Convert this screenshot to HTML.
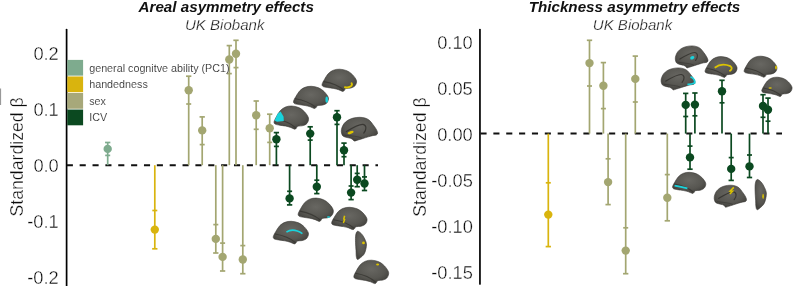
<!DOCTYPE html>
<html><head><meta charset="utf-8"><style>
html,body{margin:0;padding:0;background:#fff;}
body{width:794px;height:286px;overflow:hidden;font-family:"Liberation Sans",sans-serif;}
svg{display:block;will-change:transform;}
</style></head><body>
<svg width="794" height="286" viewBox="0 0 794 286">
<defs><radialGradient id="bg" cx="0.5" cy="0.38" r="0.62"><stop offset="0" stop-color="#686762"/><stop offset="0.65" stop-color="#575651"/><stop offset="1" stop-color="#42413d"/></radialGradient></defs>
<text x="226.2" y="12.2" font-family="Liberation Sans, sans-serif" font-size="15.2" font-weight="bold" font-style="italic" text-anchor="middle" fill="#111">Areal asymmetry effects</text>
<text x="224.7" y="29.7" font-family="Liberation Sans, sans-serif" font-size="15.05" font-style="italic" text-anchor="middle" fill="#222" stroke="#fff" stroke-width="0.25">UK Biobank</text>
<text x="634.5" y="11.8" font-family="Liberation Sans, sans-serif" font-size="15.2" font-weight="bold" font-style="italic" text-anchor="middle" fill="#111">Thickness asymmetry effects</text>
<text x="632.5" y="29.7" font-family="Liberation Sans, sans-serif" font-size="15.05" font-style="italic" text-anchor="middle" fill="#222" stroke="#fff" stroke-width="0.25">UK Biobank</text>
<line x1="66.6" y1="29.5" x2="66.6" y2="290" stroke="#000" stroke-width="1.7" stroke-linecap="round"/>
<text x="58.8" y="59.85" font-family="Liberation Sans, sans-serif" font-size="18.3" text-anchor="end" fill="#0a0a0a" stroke="#fff" stroke-width="0.35">0.2</text>
<text x="58.8" y="115.85" font-family="Liberation Sans, sans-serif" font-size="18.3" text-anchor="end" fill="#0a0a0a" stroke="#fff" stroke-width="0.35">0.1</text>
<text x="58.8" y="171.85" font-family="Liberation Sans, sans-serif" font-size="18.3" text-anchor="end" fill="#0a0a0a" stroke="#fff" stroke-width="0.35">0.0</text>
<text x="58.8" y="227.85" font-family="Liberation Sans, sans-serif" font-size="18.3" text-anchor="end" fill="#0a0a0a" stroke="#fff" stroke-width="0.35">-0.1</text>
<text x="58.8" y="283.85" font-family="Liberation Sans, sans-serif" font-size="18.3" text-anchor="end" fill="#0a0a0a" stroke="#fff" stroke-width="0.35">-0.2</text>
<text transform="translate(22.5,156.9) rotate(-90)" font-family="Liberation Sans, sans-serif" font-size="17.7" text-anchor="middle" fill="#0a0a0a" stroke="#fff" stroke-width="0.35">Standardized β</text>
<line x1="479.95" y1="29.5" x2="479.95" y2="283.9" stroke="#000" stroke-width="1.7" stroke-linecap="round"/>
<text x="472.8" y="48.50" font-family="Liberation Sans, sans-serif" font-size="18.3" text-anchor="end" fill="#0a0a0a" stroke="#fff" stroke-width="0.35">0.10</text>
<text x="472.8" y="94.60" font-family="Liberation Sans, sans-serif" font-size="18.3" text-anchor="end" fill="#0a0a0a" stroke="#fff" stroke-width="0.35">0.05</text>
<text x="472.8" y="140.70" font-family="Liberation Sans, sans-serif" font-size="18.3" text-anchor="end" fill="#0a0a0a" stroke="#fff" stroke-width="0.35">0.00</text>
<text x="472.8" y="186.80" font-family="Liberation Sans, sans-serif" font-size="18.3" text-anchor="end" fill="#0a0a0a" stroke="#fff" stroke-width="0.35">-0.05</text>
<text x="472.8" y="232.90" font-family="Liberation Sans, sans-serif" font-size="18.3" text-anchor="end" fill="#0a0a0a" stroke="#fff" stroke-width="0.35">-0.10</text>
<text x="472.8" y="279.00" font-family="Liberation Sans, sans-serif" font-size="18.3" text-anchor="end" fill="#0a0a0a" stroke="#fff" stroke-width="0.35">-0.15</text>
<text transform="translate(425.6,157.1) rotate(-90)" font-family="Liberation Sans, sans-serif" font-size="17.7" text-anchor="middle" fill="#0a0a0a" stroke="#fff" stroke-width="0.35">Standardized β</text>
<line x1="66.8" y1="165.2" x2="378" y2="165.2" stroke="#111" stroke-width="2" stroke-dasharray="6.1 6.76" stroke-dashoffset="-0.0"/>
<line x1="480.5" y1="133.6" x2="782" y2="133.6" stroke="#111" stroke-width="2" stroke-dasharray="6.1 6.76" stroke-dashoffset="-0.0"/>
<line x1="107.7" y1="165.2" x2="107.7" y2="142.5" stroke="#7eab8e" stroke-width="1.7"/><line x1="105.05" y1="142.5" x2="110.35" y2="142.5" stroke="#7eab8e" stroke-width="1.7"/><line x1="105.20" y1="155.4" x2="110.20" y2="155.4" stroke="#7eab8e" stroke-width="1.7"/><circle cx="107.7" cy="148.9" r="4.2" fill="#7eab8e"/>
<line x1="154.8" y1="165.2" x2="154.8" y2="248.8" stroke="#d9b40e" stroke-width="1.7"/><line x1="152.15" y1="248.8" x2="157.45" y2="248.8" stroke="#d9b40e" stroke-width="1.7"/><line x1="152.30" y1="210.5" x2="157.30" y2="210.5" stroke="#d9b40e" stroke-width="1.7"/><circle cx="154.8" cy="229.6" r="4.2" fill="#d9b40e"/>
<line x1="188.7" y1="165.2" x2="188.7" y2="76.2" stroke="#a3a671" stroke-width="1.7"/><line x1="186.05" y1="76.2" x2="191.35" y2="76.2" stroke="#a3a671" stroke-width="1.7"/><line x1="186.20" y1="104.0" x2="191.20" y2="104.0" stroke="#a3a671" stroke-width="1.7"/><circle cx="188.7" cy="90.2" r="4.2" fill="#a3a671"/>
<line x1="202.2" y1="165.2" x2="202.2" y2="116.9" stroke="#a3a671" stroke-width="1.7"/><line x1="199.55" y1="116.9" x2="204.85" y2="116.9" stroke="#a3a671" stroke-width="1.7"/><line x1="199.70" y1="144.6" x2="204.70" y2="144.6" stroke="#a3a671" stroke-width="1.7"/><circle cx="202.2" cy="130.4" r="4.2" fill="#a3a671"/>
<line x1="215.8" y1="165.2" x2="215.8" y2="253.0" stroke="#a3a671" stroke-width="1.7"/><line x1="213.15" y1="253.0" x2="218.45" y2="253.0" stroke="#a3a671" stroke-width="1.7"/><line x1="213.30" y1="224.6" x2="218.30" y2="224.6" stroke="#a3a671" stroke-width="1.7"/><circle cx="215.8" cy="238.9" r="4.2" fill="#a3a671"/>
<line x1="222.6" y1="165.2" x2="222.6" y2="271.0" stroke="#a3a671" stroke-width="1.7"/><line x1="219.95" y1="271.0" x2="225.25" y2="271.0" stroke="#a3a671" stroke-width="1.7"/><line x1="220.10" y1="243.1" x2="225.10" y2="243.1" stroke="#a3a671" stroke-width="1.7"/><circle cx="222.6" cy="256.9" r="4.2" fill="#a3a671"/>
<line x1="229.3" y1="165.2" x2="229.3" y2="45.6" stroke="#a3a671" stroke-width="1.7"/><line x1="226.65" y1="45.6" x2="231.95" y2="45.6" stroke="#a3a671" stroke-width="1.7"/><line x1="226.80" y1="73.6" x2="231.80" y2="73.6" stroke="#a3a671" stroke-width="1.7"/><circle cx="229.3" cy="59.5" r="4.2" fill="#a3a671"/>
<line x1="236.0" y1="165.2" x2="236.0" y2="40.3" stroke="#a3a671" stroke-width="1.7"/><line x1="233.35" y1="40.3" x2="238.65" y2="40.3" stroke="#a3a671" stroke-width="1.7"/><line x1="233.50" y1="67.6" x2="238.50" y2="67.6" stroke="#a3a671" stroke-width="1.7"/><circle cx="236.0" cy="53.7" r="4.2" fill="#a3a671"/>
<line x1="242.8" y1="165.2" x2="242.8" y2="273.7" stroke="#a3a671" stroke-width="1.7"/><line x1="240.15" y1="273.7" x2="245.45" y2="273.7" stroke="#a3a671" stroke-width="1.7"/><line x1="240.30" y1="245.6" x2="245.30" y2="245.6" stroke="#a3a671" stroke-width="1.7"/><circle cx="242.8" cy="259.5" r="4.2" fill="#a3a671"/>
<line x1="256.2" y1="165.2" x2="256.2" y2="101.0" stroke="#a3a671" stroke-width="1.7"/><line x1="253.55" y1="101.0" x2="258.85" y2="101.0" stroke="#a3a671" stroke-width="1.7"/><line x1="253.70" y1="129.3" x2="258.70" y2="129.3" stroke="#a3a671" stroke-width="1.7"/><circle cx="256.2" cy="115.2" r="4.2" fill="#a3a671"/>
<line x1="269.7" y1="165.2" x2="269.7" y2="114.2" stroke="#a3a671" stroke-width="1.7"/><line x1="267.05" y1="114.2" x2="272.35" y2="114.2" stroke="#a3a671" stroke-width="1.7"/><line x1="267.20" y1="142.4" x2="272.20" y2="142.4" stroke="#a3a671" stroke-width="1.7"/><circle cx="269.7" cy="128.2" r="4.2" fill="#a3a671"/>
<line x1="276.4" y1="165.2" x2="276.4" y2="132.6" stroke="#0b4920" stroke-width="1.7"/><line x1="273.75" y1="132.6" x2="279.05" y2="132.6" stroke="#0b4920" stroke-width="1.7"/><line x1="273.90" y1="146.4" x2="278.90" y2="146.4" stroke="#0b4920" stroke-width="1.7"/><circle cx="276.4" cy="139.3" r="4.2" fill="#0b4920"/>
<line x1="289.6" y1="165.2" x2="289.6" y2="204.9" stroke="#0b4920" stroke-width="1.7"/><line x1="286.95" y1="204.9" x2="292.25" y2="204.9" stroke="#0b4920" stroke-width="1.7"/><line x1="287.10" y1="191.3" x2="292.10" y2="191.3" stroke="#0b4920" stroke-width="1.7"/><circle cx="289.6" cy="198.4" r="4.2" fill="#0b4920"/>
<line x1="310.2" y1="165.2" x2="310.2" y2="126.8" stroke="#0b4920" stroke-width="1.7"/><line x1="307.55" y1="126.8" x2="312.85" y2="126.8" stroke="#0b4920" stroke-width="1.7"/><line x1="307.70" y1="140.1" x2="312.70" y2="140.1" stroke="#0b4920" stroke-width="1.7"/><circle cx="310.2" cy="133.6" r="4.2" fill="#0b4920"/>
<line x1="316.8" y1="165.2" x2="316.8" y2="193.6" stroke="#0b4920" stroke-width="1.7"/><line x1="314.15" y1="193.6" x2="319.45" y2="193.6" stroke="#0b4920" stroke-width="1.7"/><line x1="314.30" y1="180.2" x2="319.30" y2="180.2" stroke="#0b4920" stroke-width="1.7"/><circle cx="316.8" cy="186.7" r="4.2" fill="#0b4920"/>
<line x1="337.0" y1="165.2" x2="337.0" y2="110.7" stroke="#0b4920" stroke-width="1.7"/><line x1="334.35" y1="110.7" x2="339.65" y2="110.7" stroke="#0b4920" stroke-width="1.7"/><line x1="334.50" y1="124.4" x2="339.50" y2="124.4" stroke="#0b4920" stroke-width="1.7"/><circle cx="337.0" cy="117.2" r="4.2" fill="#0b4920"/>
<line x1="344.0" y1="165.2" x2="344.0" y2="143.1" stroke="#0b4920" stroke-width="1.7"/><line x1="341.35" y1="143.1" x2="346.65" y2="143.1" stroke="#0b4920" stroke-width="1.7"/><line x1="341.50" y1="156.7" x2="346.50" y2="156.7" stroke="#0b4920" stroke-width="1.7"/><circle cx="344.0" cy="150.2" r="4.2" fill="#0b4920"/>
<line x1="351.1" y1="165.2" x2="351.1" y2="199.6" stroke="#0b4920" stroke-width="1.7"/><line x1="348.45" y1="199.6" x2="353.75" y2="199.6" stroke="#0b4920" stroke-width="1.7"/><line x1="348.60" y1="186.0" x2="353.60" y2="186.0" stroke="#0b4920" stroke-width="1.7"/><circle cx="351.1" cy="192.6" r="4.2" fill="#0b4920"/>
<line x1="357.2" y1="165.2" x2="357.2" y2="186.7" stroke="#0b4920" stroke-width="1.7"/><line x1="354.55" y1="186.7" x2="359.85" y2="186.7" stroke="#0b4920" stroke-width="1.7"/><line x1="354.70" y1="173.4" x2="359.70" y2="173.4" stroke="#0b4920" stroke-width="1.7"/><circle cx="357.2" cy="179.8" r="4.2" fill="#0b4920"/>
<line x1="364.5" y1="165.2" x2="364.5" y2="190.5" stroke="#0b4920" stroke-width="1.7"/><line x1="361.85" y1="190.5" x2="367.15" y2="190.5" stroke="#0b4920" stroke-width="1.7"/><line x1="362.00" y1="176.9" x2="367.00" y2="176.9" stroke="#0b4920" stroke-width="1.7"/><circle cx="364.5" cy="183.5" r="4.2" fill="#0b4920"/>
<line x1="548.3" y1="133.6" x2="548.3" y2="246.6" stroke="#d9b40e" stroke-width="1.7"/><line x1="545.65" y1="246.6" x2="550.95" y2="246.6" stroke="#d9b40e" stroke-width="1.7"/><line x1="545.80" y1="182.8" x2="550.80" y2="182.8" stroke="#d9b40e" stroke-width="1.7"/><circle cx="548.3" cy="214.6" r="4.2" fill="#d9b40e"/>
<line x1="589.5" y1="133.6" x2="589.5" y2="40.3" stroke="#a3a671" stroke-width="1.7"/><line x1="586.85" y1="40.3" x2="592.15" y2="40.3" stroke="#a3a671" stroke-width="1.7"/><line x1="587.00" y1="86.0" x2="592.00" y2="86.0" stroke="#a3a671" stroke-width="1.7"/><circle cx="589.5" cy="63.1" r="4.2" fill="#a3a671"/>
<line x1="603.4" y1="133.6" x2="603.4" y2="62.6" stroke="#a3a671" stroke-width="1.7"/><line x1="600.75" y1="62.6" x2="606.05" y2="62.6" stroke="#a3a671" stroke-width="1.7"/><line x1="600.90" y1="108.6" x2="605.90" y2="108.6" stroke="#a3a671" stroke-width="1.7"/><circle cx="603.4" cy="85.7" r="4.2" fill="#a3a671"/>
<line x1="608.1" y1="133.6" x2="608.1" y2="204.6" stroke="#a3a671" stroke-width="1.7"/><line x1="605.45" y1="204.6" x2="610.75" y2="204.6" stroke="#a3a671" stroke-width="1.7"/><line x1="605.60" y1="158.8" x2="610.60" y2="158.8" stroke="#a3a671" stroke-width="1.7"/><circle cx="608.1" cy="182.1" r="4.2" fill="#a3a671"/>
<line x1="625.7" y1="133.6" x2="625.7" y2="273.7" stroke="#a3a671" stroke-width="1.7"/><line x1="623.05" y1="273.7" x2="628.35" y2="273.7" stroke="#a3a671" stroke-width="1.7"/><line x1="623.20" y1="227.8" x2="628.20" y2="227.8" stroke="#a3a671" stroke-width="1.7"/><circle cx="625.7" cy="250.6" r="4.2" fill="#a3a671"/>
<line x1="635.3" y1="133.6" x2="635.3" y2="56.1" stroke="#a3a671" stroke-width="1.7"/><line x1="632.65" y1="56.1" x2="637.95" y2="56.1" stroke="#a3a671" stroke-width="1.7"/><line x1="632.80" y1="102.0" x2="637.80" y2="102.0" stroke="#a3a671" stroke-width="1.7"/><circle cx="635.3" cy="78.9" r="4.2" fill="#a3a671"/>
<line x1="667.3" y1="133.6" x2="667.3" y2="220.8" stroke="#a3a671" stroke-width="1.7"/><line x1="664.65" y1="220.8" x2="669.95" y2="220.8" stroke="#a3a671" stroke-width="1.7"/><line x1="664.80" y1="174.6" x2="669.80" y2="174.6" stroke="#a3a671" stroke-width="1.7"/><circle cx="667.3" cy="197.8" r="4.2" fill="#a3a671"/>
<line x1="685.7" y1="133.6" x2="685.7" y2="93.4" stroke="#0b4920" stroke-width="1.7"/><line x1="683.05" y1="93.4" x2="688.35" y2="93.4" stroke="#0b4920" stroke-width="1.7"/><line x1="683.20" y1="116.5" x2="688.20" y2="116.5" stroke="#0b4920" stroke-width="1.7"/><circle cx="685.7" cy="104.9" r="4.2" fill="#0b4920"/>
<line x1="690.0" y1="133.6" x2="690.0" y2="169.2" stroke="#0b4920" stroke-width="1.7"/><line x1="687.35" y1="169.2" x2="692.65" y2="169.2" stroke="#0b4920" stroke-width="1.7"/><line x1="687.50" y1="146.1" x2="692.50" y2="146.1" stroke="#0b4920" stroke-width="1.7"/><circle cx="690.0" cy="157.4" r="4.2" fill="#0b4920"/>
<line x1="694.9" y1="133.6" x2="694.9" y2="93.0" stroke="#0b4920" stroke-width="1.7"/><line x1="692.25" y1="93.0" x2="697.55" y2="93.0" stroke="#0b4920" stroke-width="1.7"/><line x1="692.40" y1="115.8" x2="697.40" y2="115.8" stroke="#0b4920" stroke-width="1.7"/><circle cx="694.9" cy="104.6" r="4.2" fill="#0b4920"/>
<line x1="722.0" y1="133.6" x2="722.0" y2="80.3" stroke="#0b4920" stroke-width="1.7"/><line x1="719.35" y1="80.3" x2="724.65" y2="80.3" stroke="#0b4920" stroke-width="1.7"/><line x1="719.50" y1="102.8" x2="724.50" y2="102.8" stroke="#0b4920" stroke-width="1.7"/><circle cx="722.0" cy="91.2" r="4.2" fill="#0b4920"/>
<line x1="731.2" y1="133.6" x2="731.2" y2="180.4" stroke="#0b4920" stroke-width="1.7"/><line x1="728.55" y1="180.4" x2="733.85" y2="180.4" stroke="#0b4920" stroke-width="1.7"/><line x1="728.70" y1="157.6" x2="733.70" y2="157.6" stroke="#0b4920" stroke-width="1.7"/><circle cx="731.2" cy="168.9" r="4.2" fill="#0b4920"/>
<line x1="749.5" y1="133.6" x2="749.5" y2="177.5" stroke="#0b4920" stroke-width="1.7"/><line x1="746.85" y1="177.5" x2="752.15" y2="177.5" stroke="#0b4920" stroke-width="1.7"/><line x1="747.00" y1="155.0" x2="752.00" y2="155.0" stroke="#0b4920" stroke-width="1.7"/><circle cx="749.5" cy="166.4" r="4.2" fill="#0b4920"/>
<line x1="763.0" y1="133.6" x2="763.0" y2="94.7" stroke="#0b4920" stroke-width="1.7"/><line x1="760.35" y1="94.7" x2="765.65" y2="94.7" stroke="#0b4920" stroke-width="1.7"/><line x1="760.50" y1="117.3" x2="765.50" y2="117.3" stroke="#0b4920" stroke-width="1.7"/><circle cx="763.0" cy="106.0" r="4.2" fill="#0b4920"/>
<line x1="768.0" y1="133.6" x2="768.0" y2="98.1" stroke="#0b4920" stroke-width="1.7"/><line x1="765.35" y1="98.1" x2="770.65" y2="98.1" stroke="#0b4920" stroke-width="1.7"/><line x1="765.50" y1="121.2" x2="770.50" y2="121.2" stroke="#0b4920" stroke-width="1.7"/><circle cx="768.0" cy="109.7" r="4.2" fill="#0b4920"/>
<path d="M322.10,84.23 C322.30,83.08 323.29,81.41 324.34,79.63 C325.38,77.86 326.84,75.15 328.36,73.57 C329.89,72.00 331.61,70.93 333.49,70.20 C335.37,69.47 337.43,69.12 339.64,69.20 C341.86,69.28 344.66,69.77 346.80,70.69 C348.94,71.60 350.86,73.01 352.48,74.68 C354.09,76.36 356.08,78.89 356.50,80.74 C356.92,82.60 355.91,84.63 354.99,85.83 C354.06,87.03 352.49,87.49 350.96,87.96 C349.43,88.43 346.91,88.20 345.80,88.62 C344.69,89.05 344.81,90.05 344.29,90.51 C343.77,90.97 343.61,91.53 342.67,91.40 C341.73,91.27 340.18,90.23 338.65,89.74 C337.12,89.24 335.37,88.77 333.49,88.40 C331.61,88.03 329.09,87.83 327.36,87.52 C325.64,87.20 324.01,87.06 323.13,86.52 C322.25,85.97 321.90,85.38 322.10,84.23Z" fill="url(#bg)" stroke="#3a3935" stroke-width="0.6"/><path d="M323.8,81.6 C329.0,82.5 337.6,84.7 343.4,89.8" stroke="#34332f" stroke-width="1.1" fill="none" opacity="0.75" stroke-linecap="round"/><path d="M345,87.2 Q349.5,88 351.6,85.6 Q352.3,84.4 351.6,83.3" stroke="#dcc400" stroke-width="2" fill="none" stroke-linecap="round"/>
<path d="M293.50,101.33 C293.70,100.18 294.71,98.51 295.77,96.73 C296.83,94.96 298.30,92.25 299.85,90.67 C301.40,89.10 303.14,88.03 305.05,87.30 C306.96,86.57 309.05,86.22 311.30,86.30 C313.55,86.38 316.39,86.87 318.56,87.79 C320.73,88.70 322.68,90.11 324.32,91.78 C325.96,93.46 327.98,95.99 328.40,97.84 C328.82,99.70 327.80,101.73 326.86,102.93 C325.93,104.13 324.33,104.59 322.78,105.06 C321.23,105.53 318.67,105.30 317.55,105.72 C316.42,106.15 316.54,107.15 316.01,107.61 C315.48,108.07 315.32,108.63 314.37,108.50 C313.42,108.37 311.84,107.33 310.29,106.84 C308.73,106.34 306.96,105.87 305.05,105.50 C303.14,105.13 300.59,104.93 298.84,104.61 C297.09,104.30 295.44,104.16 294.55,103.62 C293.66,103.07 293.30,102.48 293.50,101.33Z" fill="url(#bg)" stroke="#3a3935" stroke-width="0.6"/><path d="M295.2,98.7 C300.5,99.6 309.2,101.8 315.1,106.9" stroke="#34332f" stroke-width="1.1" fill="none" opacity="0.75" stroke-linecap="round"/><ellipse cx="326.7" cy="99.6" rx="1.3" ry="3.2" fill="#19d3dc"/>
<path d="M274.10,121.71 C274.30,120.51 275.29,118.76 276.34,116.90 C277.38,115.05 278.84,112.21 280.36,110.57 C281.89,108.93 283.61,107.81 285.49,107.04 C287.37,106.28 289.43,105.91 291.64,106.00 C293.86,106.09 296.66,106.60 298.80,107.55 C300.94,108.51 302.86,109.98 304.48,111.73 C306.09,113.48 308.08,116.12 308.50,118.06 C308.92,120.01 307.91,122.12 306.99,123.38 C306.06,124.63 304.49,125.12 302.96,125.60 C301.43,126.09 298.91,125.86 297.80,126.30 C296.69,126.74 296.81,127.79 296.29,128.27 C295.77,128.76 295.61,129.34 294.67,129.20 C293.73,129.06 292.18,127.98 290.65,127.46 C289.12,126.94 287.37,126.45 285.49,126.07 C283.61,125.68 281.09,125.47 279.36,125.14 C277.64,124.81 276.01,124.67 275.13,124.10 C274.25,123.52 273.90,122.91 274.10,121.71Z" fill="url(#bg)" stroke="#3a3935" stroke-width="0.6"/><path d="M275.8,119.0 C281.0,119.9 289.6,122.2 295.4,127.6" stroke="#34332f" stroke-width="1.1" fill="none" opacity="0.75" stroke-linecap="round"/><path d="M274.6,120.5 L277.6,113.8 L280.6,111.4 L283.6,116.8 L283.8,121 L277,121.8 Z" fill="#19d3dc"/>
<path d="M341.30,131.58 C341.20,130.24 341.49,128.93 341.95,127.61 C342.41,126.28 343.08,124.82 344.06,123.61 C345.03,122.39 346.27,121.22 347.80,120.30 C349.32,119.38 351.22,118.59 353.21,118.09 C355.19,117.59 357.71,117.30 359.70,117.30 C361.69,117.30 363.53,117.59 365.15,118.09 C366.76,118.59 368.14,119.27 369.40,120.30 C370.65,121.33 371.62,122.87 372.70,124.27 C373.78,125.67 375.08,127.30 375.89,128.70 C376.71,130.10 377.51,131.66 377.60,132.70 C377.69,133.73 377.26,134.42 376.44,134.91 C375.62,135.40 374.05,135.31 372.70,135.63 C371.35,135.94 369.96,136.34 368.34,136.82 C366.73,137.29 364.80,137.93 363.01,138.48 C361.22,139.04 359.05,139.71 357.60,140.15 C356.15,140.58 355.08,141.18 354.30,141.10 C353.51,141.02 353.57,140.15 352.92,139.67 C352.26,139.20 351.52,138.64 350.38,138.24 C349.23,137.85 347.32,137.73 346.02,137.29 C344.72,136.86 343.36,136.58 342.57,135.63 C341.78,134.67 341.40,132.92 341.30,131.58Z" fill="url(#bg)" stroke="#3a3935" stroke-width="0.6"/><path d="M346.4,131.6 C352.2,128.0 358.7,124.0 363.1,124.4 C366.7,125.2 366.7,129.7 363.8,133.0" stroke="#2f2e2a" stroke-width="1.2" fill="none" opacity="0.8" stroke-linecap="round"/><path d="M344.9,135.2 C352.2,135.9 357.6,136.3 361.3,137.8" stroke="#34332f" stroke-width="0.9" fill="none" opacity="0.6" stroke-linecap="round"/><ellipse cx="350.6" cy="132.5" rx="3.2" ry="1.4" transform="rotate(-20 350.6 132.5)" fill="#dcc400"/>
<path d="M298.20,213.87 C298.40,212.67 299.42,210.91 300.48,209.05 C301.55,207.19 303.03,204.34 304.59,202.69 C306.14,201.04 307.90,199.91 309.82,199.15 C311.74,198.38 313.84,198.01 316.10,198.10 C318.36,198.19 321.22,198.70 323.40,199.66 C325.58,200.62 327.54,202.10 329.19,203.86 C330.84,205.61 332.87,208.27 333.30,210.22 C333.73,212.17 332.70,214.29 331.76,215.55 C330.81,216.81 329.21,217.30 327.65,217.79 C326.09,218.28 323.52,218.04 322.38,218.49 C321.25,218.93 321.37,219.98 320.84,220.47 C320.31,220.95 320.15,221.54 319.19,221.40 C318.23,221.26 316.65,220.18 315.08,219.65 C313.52,219.13 311.74,218.64 309.82,218.25 C307.90,217.87 305.33,217.65 303.57,217.32 C301.81,216.99 300.15,216.85 299.25,216.27 C298.36,215.70 298.00,215.08 298.20,213.87Z" fill="url(#bg)" stroke="#3a3935" stroke-width="0.6"/><path d="M300.0,211.1 C305.2,212.1 314.0,214.4 320.0,219.8" stroke="#34332f" stroke-width="1.1" fill="none" opacity="0.75" stroke-linecap="round"/><ellipse cx="328.6" cy="217" rx="1.8" ry="0.8" fill="#19d3dc"/>
<path d="M331.70,222.40 C331.91,221.24 332.92,219.56 333.99,217.78 C335.07,216.00 336.56,213.27 338.12,211.69 C339.69,210.11 341.45,209.04 343.38,208.30 C345.31,207.57 347.43,207.22 349.70,207.30 C351.98,207.38 354.85,207.88 357.05,208.79 C359.24,209.71 361.21,211.12 362.87,212.81 C364.53,214.49 366.57,217.03 367.00,218.90 C367.43,220.76 366.39,222.79 365.45,224.00 C364.50,225.21 362.89,225.68 361.32,226.14 C359.75,226.61 357.16,226.39 356.02,226.81 C354.88,227.24 355.00,228.24 354.47,228.71 C353.93,229.17 353.77,229.73 352.81,229.60 C351.84,229.47 350.25,228.43 348.68,227.93 C347.11,227.43 345.31,226.96 343.38,226.59 C341.45,226.22 338.87,226.01 337.10,225.70 C335.33,225.38 333.66,225.24 332.76,224.69 C331.86,224.14 331.49,223.55 331.70,222.40Z" fill="url(#bg)" stroke="#3a3935" stroke-width="0.6"/><path d="M333.5,219.8 C338.8,220.7 347.6,222.9 353.6,228.0" stroke="#34332f" stroke-width="1.1" fill="none" opacity="0.75" stroke-linecap="round"/><path d="M344.6,215.8 L343.8,219 L344.6,219.6 L343.4,223" stroke="#dcc400" stroke-width="1.5" fill="none"/>
<path d="M273.30,236.60 C273.50,235.43 274.52,233.73 275.58,231.92 C276.65,230.11 278.13,227.35 279.69,225.75 C281.24,224.15 283.00,223.06 284.92,222.32 C286.84,221.57 288.94,221.22 291.20,221.30 C293.46,221.38 296.32,221.88 298.50,222.81 C300.68,223.74 302.64,225.18 304.29,226.88 C305.94,228.59 307.97,231.16 308.40,233.05 C308.83,234.94 307.80,237.00 306.86,238.23 C305.91,239.45 304.31,239.92 302.75,240.40 C301.19,240.87 298.62,240.64 297.48,241.08 C296.35,241.51 296.47,242.53 295.94,243.00 C295.41,243.47 295.25,244.03 294.29,243.90 C293.33,243.77 291.75,242.71 290.18,242.21 C288.62,241.70 286.84,241.23 284.92,240.85 C283.00,240.47 280.43,240.27 278.67,239.94 C276.91,239.62 275.25,239.49 274.35,238.93 C273.46,238.37 273.10,237.77 273.30,236.60Z" fill="url(#bg)" stroke="#3a3935" stroke-width="0.6"/><path d="M275.1,234.0 C280.3,234.9 289.1,237.1 295.1,242.3" stroke="#34332f" stroke-width="1.1" fill="none" opacity="0.75" stroke-linecap="round"/><path d="M286.4,232.2 Q293,227.5 302.4,233.6" stroke="#19d3dc" stroke-width="1.6" fill="none"/>
<path d="M357.49,231.30 C358.40,231.01 360.02,232.35 361.10,233.39 C362.19,234.42 363.12,235.82 364.00,237.50 C364.88,239.19 366.10,241.53 366.40,243.51 C366.70,245.49 366.20,247.62 365.80,249.40 C365.40,251.19 364.88,252.86 364.00,254.23 C363.12,255.59 361.59,256.73 360.50,257.61 C359.42,258.49 358.20,259.67 357.49,259.50 C356.79,259.33 356.54,258.08 356.30,256.60 C356.05,255.11 356.13,252.97 356.00,250.59 C355.87,248.21 355.55,244.88 355.50,242.30 C355.45,239.72 355.36,236.94 355.70,235.11 C356.03,233.27 356.59,231.59 357.49,231.30Z" fill="url(#bg)" stroke="#3a3935" stroke-width="0.6"/><circle cx="363.5" cy="242.9" r="1.4" fill="#dcc400"/>
<path d="M353.90,276.04 C354.10,274.83 355.10,273.07 356.16,271.20 C357.21,269.33 358.68,266.47 360.22,264.81 C361.75,263.15 363.49,262.02 365.39,261.25 C367.28,260.48 369.36,260.11 371.60,260.20 C373.84,260.29 376.66,260.80 378.81,261.77 C380.97,262.73 382.91,264.21 384.54,265.98 C386.17,267.75 388.18,270.41 388.60,272.37 C389.02,274.33 388.00,276.46 387.07,277.73 C386.14,278.99 384.56,279.48 383.01,279.97 C381.47,280.46 378.93,280.23 377.81,280.68 C376.69,281.12 376.81,282.18 376.28,282.66 C375.76,283.15 375.60,283.74 374.65,283.60 C373.70,283.46 372.13,282.37 370.59,281.85 C369.05,281.32 367.28,280.83 365.39,280.44 C363.49,280.05 360.95,279.84 359.21,279.50 C357.47,279.17 355.83,279.03 354.94,278.45 C354.06,277.87 353.70,277.25 353.90,276.04Z" fill="url(#bg)" stroke="#3a3935" stroke-width="0.6"/><path d="M355.6,273.3 C360.8,274.2 369.5,276.6 375.4,282.0" stroke="#34332f" stroke-width="1.1" fill="none" opacity="0.75" stroke-linecap="round"/><ellipse cx="377.6" cy="264.4" rx="1.5" ry="1" fill="#dcc400"/>
<path d="M675.30,59.10 C675.21,57.86 675.47,56.65 675.89,55.43 C676.30,54.20 676.91,52.86 677.79,51.73 C678.66,50.60 679.78,49.52 681.15,48.67 C682.53,47.82 684.24,47.09 686.03,46.63 C687.81,46.16 690.09,45.90 691.88,45.90 C693.67,45.90 695.33,46.16 696.78,46.63 C698.24,47.09 699.48,47.72 700.61,48.67 C701.74,49.63 702.61,51.05 703.59,52.35 C704.56,53.64 705.73,55.14 706.46,56.44 C707.20,57.74 707.92,59.18 708.00,60.13 C708.08,61.09 707.69,61.73 706.95,62.18 C706.22,62.63 704.80,62.55 703.59,62.84 C702.37,63.13 701.12,63.50 699.66,63.94 C698.21,64.38 696.47,64.97 694.85,65.48 C693.24,65.99 691.29,66.62 689.98,67.02 C688.67,67.42 687.71,67.97 687.01,67.90 C686.30,67.83 686.35,67.02 685.76,66.58 C685.18,66.14 684.51,65.63 683.47,65.26 C682.44,64.89 680.72,64.78 679.55,64.38 C678.38,63.98 677.15,63.72 676.44,62.84 C675.74,61.96 675.39,60.34 675.30,59.10Z" fill="url(#bg)" stroke="#3a3935" stroke-width="0.6"/><path d="M679.9,59.1 C685.1,55.8 691.0,52.1 694.9,52.5 C698.2,53.2 698.2,57.3 695.6,60.4" stroke="#2f2e2a" stroke-width="1.2" fill="none" opacity="0.8" stroke-linecap="round"/><path d="M678.6,62.4 C685.1,63.1 690.0,63.5 693.3,64.8" stroke="#34332f" stroke-width="0.9" fill="none" opacity="0.6" stroke-linecap="round"/><ellipse cx="692.3" cy="57.7" rx="2.2" ry="1.6" transform="rotate(-25 692.3 57.7)" fill="#19d3dc"/>
<path d="M705.10,70.68 C705.29,69.61 706.21,68.04 707.17,66.38 C708.14,64.71 709.49,62.17 710.91,60.70 C712.32,59.22 713.92,58.22 715.66,57.54 C717.40,56.85 719.31,56.52 721.37,56.60 C723.43,56.68 726.02,57.14 728.00,57.99 C729.99,58.85 731.77,60.17 733.27,61.74 C734.77,63.31 736.61,65.68 737.00,67.42 C737.39,69.16 736.45,71.05 735.60,72.18 C734.74,73.31 733.28,73.74 731.86,74.18 C730.44,74.61 728.11,74.40 727.08,74.80 C726.05,75.20 726.16,76.13 725.68,76.57 C725.19,77.00 725.05,77.52 724.18,77.40 C723.30,77.28 721.86,76.31 720.44,75.84 C719.02,75.37 717.40,74.94 715.66,74.59 C713.92,74.25 711.58,74.05 709.98,73.76 C708.38,73.47 706.87,73.34 706.06,72.82 C705.24,72.31 704.91,71.76 705.10,70.68Z" fill="url(#bg)" stroke="#3a3935" stroke-width="0.6"/><path d="M706.7,68.2 C711.5,69.1 719.5,71.2 724.9,75.9" stroke="#34332f" stroke-width="1.1" fill="none" opacity="0.75" stroke-linecap="round"/><path d="M714.7,67.7 Q721.5,62.5 730.4,66.2 Q733.5,68.5 729.4,71.3" stroke="#dcc400" stroke-width="1.8" fill="none"/>
<path d="M744.20,70.42 C744.39,69.33 745.33,67.75 746.33,66.07 C747.32,64.39 748.70,61.82 750.15,60.34 C751.60,58.85 753.24,57.83 755.02,57.15 C756.81,56.46 758.77,56.12 760.88,56.20 C762.99,56.28 765.65,56.74 767.68,57.61 C769.71,58.47 771.54,59.80 773.07,61.39 C774.61,62.97 776.50,65.36 776.90,67.12 C777.30,68.88 776.34,70.79 775.46,71.93 C774.58,73.07 773.09,73.50 771.64,73.95 C770.18,74.39 767.79,74.17 766.73,74.58 C765.67,74.98 765.79,75.92 765.29,76.36 C764.80,76.80 764.65,77.32 763.75,77.20 C762.86,77.08 761.38,76.10 759.93,75.62 C758.47,75.15 756.81,74.72 755.02,74.37 C753.24,74.02 750.84,73.82 749.20,73.53 C747.56,73.23 746.01,73.10 745.18,72.58 C744.35,72.06 744.01,71.50 744.20,70.42Z" fill="url(#bg)" stroke="#3a3935" stroke-width="0.6"/><path d="M745.8,68.0 C750.7,68.8 758.9,70.9 764.5,75.7" stroke="#34332f" stroke-width="1.1" fill="none" opacity="0.75" stroke-linecap="round"/><ellipse cx="776" cy="67.5" rx="0.9" ry="2.1" fill="#dcc400"/>
<path d="M661.10,81.10 C661.00,79.86 661.28,78.65 661.71,77.43 C662.14,76.20 662.77,74.86 663.68,73.73 C664.59,72.60 665.74,71.52 667.17,70.67 C668.59,69.82 670.37,69.09 672.22,68.63 C674.07,68.16 676.43,67.90 678.29,67.90 C680.15,67.90 681.86,68.16 683.37,68.63 C684.88,69.09 686.16,69.72 687.34,70.67 C688.51,71.63 689.41,73.05 690.42,74.35 C691.43,75.64 692.64,77.14 693.41,78.44 C694.17,79.74 694.92,81.18 695.00,82.13 C695.08,83.09 694.68,83.73 693.92,84.18 C693.15,84.63 691.68,84.55 690.42,84.84 C689.16,85.13 687.86,85.50 686.36,85.94 C684.85,86.38 683.04,86.97 681.37,87.48 C679.70,87.99 677.68,88.62 676.32,89.02 C674.97,89.42 673.97,89.97 673.24,89.90 C672.51,89.83 672.56,89.02 671.95,88.58 C671.34,88.14 670.65,87.63 669.58,87.26 C668.50,86.89 666.72,86.78 665.51,86.38 C664.29,85.98 663.02,85.72 662.29,84.84 C661.55,83.96 661.20,82.34 661.10,81.10Z" fill="url(#bg)" stroke="#3a3935" stroke-width="0.6"/><path d="M665.8,81.1 C671.3,77.8 677.4,74.1 681.4,74.5 C684.8,75.2 684.8,79.3 682.1,82.4" stroke="#2f2e2a" stroke-width="1.2" fill="none" opacity="0.8" stroke-linecap="round"/><path d="M664.5,84.4 C671.3,85.1 676.4,85.5 679.7,86.8" stroke="#34332f" stroke-width="0.9" fill="none" opacity="0.6" stroke-linecap="round"/><path d="M690.5,76.7 Q695.5,79 694.6,83 Q691,84.5 687.4,84.3" stroke="#19d3dc" stroke-width="1.8" fill="none"/>
<path d="M761.80,90.27 C761.98,89.27 762.85,87.81 763.76,86.27 C764.68,84.73 765.96,82.37 767.30,81.00 C768.64,79.64 770.15,78.70 771.80,78.07 C773.45,77.43 775.25,77.13 777.20,77.20 C779.15,77.27 781.61,77.70 783.48,78.49 C785.36,79.29 787.05,80.51 788.47,81.97 C789.89,83.42 791.63,85.62 792.00,87.24 C792.37,88.85 791.48,90.61 790.67,91.66 C789.86,92.70 788.48,93.10 787.14,93.51 C785.79,93.91 783.58,93.72 782.61,94.09 C781.63,94.46 781.74,95.33 781.28,95.73 C780.82,96.13 780.69,96.61 779.86,96.50 C779.03,96.39 777.67,95.49 776.33,95.05 C774.98,94.62 773.45,94.22 771.80,93.89 C770.15,93.57 767.94,93.40 766.42,93.12 C764.91,92.85 763.48,92.73 762.71,92.25 C761.94,91.78 761.62,91.26 761.80,90.27Z" fill="url(#bg)" stroke="#3a3935" stroke-width="0.6"/><path d="M763.3,88.0 C767.8,88.8 775.4,90.7 780.5,95.1" stroke="#34332f" stroke-width="1.1" fill="none" opacity="0.75" stroke-linecap="round"/><ellipse cx="770.2" cy="88" rx="1.7" ry="0.8" fill="#dcc400"/>
<path d="M672.60,186.58 C672.79,185.49 673.75,183.91 674.75,182.22 C675.76,180.53 677.16,177.95 678.62,176.46 C680.09,174.96 681.75,173.94 683.56,173.25 C685.37,172.56 687.35,172.22 689.48,172.30 C691.62,172.38 694.31,172.85 696.37,173.71 C698.42,174.58 700.27,175.92 701.83,177.51 C703.38,179.10 705.30,181.51 705.70,183.27 C706.10,185.04 705.13,186.96 704.24,188.10 C703.36,189.25 701.84,189.69 700.37,190.13 C698.90,190.57 696.48,190.36 695.41,190.76 C694.34,191.17 694.45,192.12 693.95,192.56 C693.45,193.00 693.30,193.52 692.39,193.40 C691.49,193.28 689.99,192.29 688.52,191.82 C687.05,191.34 685.37,190.90 683.56,190.55 C681.75,190.20 679.32,190.01 677.66,189.71 C676.00,189.41 674.44,189.28 673.59,188.76 C672.75,188.24 672.41,187.67 672.60,186.58Z" fill="url(#bg)" stroke="#3a3935" stroke-width="0.6"/><path d="M674.3,184.1 C679.2,185.0 687.5,187.1 693.1,191.9" stroke="#34332f" stroke-width="1.1" fill="none" opacity="0.75" stroke-linecap="round"/><path d="M674.6,185.6 L681,186.9 L687.4,188.3" stroke="#19d3dc" stroke-width="1.8" fill="none"/>
<path d="M714.20,198.40 C714.11,197.16 714.37,195.95 714.78,194.73 C715.19,193.50 715.79,192.16 716.65,191.03 C717.52,189.90 718.63,188.82 719.98,187.97 C721.34,187.12 723.03,186.39 724.79,185.93 C726.56,185.46 728.80,185.20 730.58,185.20 C732.35,185.20 733.98,185.46 735.42,185.93 C736.86,186.39 738.08,187.02 739.20,187.97 C740.32,188.93 741.18,190.35 742.14,191.65 C743.10,192.94 744.26,194.44 744.98,195.74 C745.71,197.04 746.42,198.48 746.50,199.43 C746.58,200.39 746.19,201.03 745.47,201.48 C744.74,201.93 743.34,201.85 742.14,202.14 C740.94,202.43 739.70,202.80 738.26,203.24 C736.83,203.68 735.11,204.27 733.52,204.78 C731.92,205.29 729.99,205.92 728.70,206.32 C727.41,206.72 726.46,207.27 725.76,207.20 C725.07,207.13 725.12,206.32 724.54,205.88 C723.95,205.44 723.30,204.93 722.28,204.56 C721.25,204.19 719.56,204.08 718.40,203.68 C717.24,203.28 716.03,203.02 715.33,202.14 C714.63,201.26 714.29,199.64 714.20,198.40Z" fill="url(#bg)" stroke="#3a3935" stroke-width="0.6"/><path d="M718.7,198.4 C723.9,195.1 729.7,191.4 733.6,191.8 C736.8,192.5 736.8,196.6 734.2,199.7" stroke="#2f2e2a" stroke-width="1.2" fill="none" opacity="0.8" stroke-linecap="round"/><path d="M717.4,201.7 C723.9,202.4 728.7,202.8 732.0,204.1" stroke="#34332f" stroke-width="0.9" fill="none" opacity="0.6" stroke-linecap="round"/><path d="M733.8,187.4 L730.2,191 L732.6,191.2 L729.8,194" stroke="#dcc400" stroke-width="1.6" fill="none"/>
<path d="M757.15,179.50 C758.08,179.19 759.74,180.63 760.86,181.73 C761.97,182.84 762.93,184.34 763.84,186.14 C764.74,187.95 765.99,190.45 766.30,192.58 C766.61,194.70 766.09,196.98 765.68,198.89 C765.27,200.80 764.74,202.59 763.84,204.05 C762.93,205.52 761.36,206.74 760.24,207.68 C759.13,208.62 757.87,209.88 757.15,209.70 C756.43,209.52 756.17,208.18 755.92,206.59 C755.66,205.00 755.75,202.71 755.62,200.16 C755.48,197.60 755.15,194.04 755.10,191.28 C755.05,188.51 754.96,185.54 755.30,183.58 C755.64,181.61 756.22,179.81 757.15,179.50Z" fill="url(#bg)" stroke="#3a3935" stroke-width="0.6"/><ellipse cx="763.1" cy="196.3" rx="0.8" ry="2.6" fill="#dcc400"/>
<rect x="67.3" y="59.90" width="15.8" height="15.75" fill="#7eab8e"/>
<text x="89.2" y="71.50" font-family="Liberation Sans, sans-serif" font-size="10.75" fill="#2a2a2a" stroke="#fff" stroke-width="0.12">general cognitve ability (PC1)</text>
<rect x="67.3" y="76.45" width="15.8" height="15.75" fill="#d9b40e"/>
<text x="89.2" y="88.05" font-family="Liberation Sans, sans-serif" font-size="10.75" fill="#2a2a2a" stroke="#fff" stroke-width="0.12">handedness</text>
<rect x="67.3" y="93.00" width="15.8" height="15.75" fill="#a7a87a"/>
<text x="89.2" y="104.60" font-family="Liberation Sans, sans-serif" font-size="10.75" fill="#2a2a2a" stroke="#fff" stroke-width="0.12">sex</text>
<rect x="67.3" y="109.55" width="15.8" height="15.75" fill="#0b4920"/>
<text x="89.2" y="121.15" font-family="Liberation Sans, sans-serif" font-size="10.75" fill="#2a2a2a" stroke="#fff" stroke-width="0.12">ICV</text>
<line x1="0.55" y1="88.5" x2="0.55" y2="105" stroke="#999" stroke-width="1.1"/>
</svg>
</body></html>
